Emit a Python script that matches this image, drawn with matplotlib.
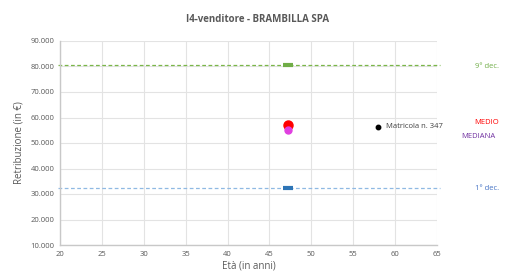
import matplotlib
matplotlib.use("Agg")
import matplotlib.pyplot as plt
from matplotlib.ticker import FuncFormatter

plt.rcParams['font.family'] = ['Open Sans', 'DejaVu Sans']

title = "I4-venditore - BRAMBILLA SPA"
xlabel = "Età (in anni)"
ylabel = "Retribuzione (in €)"

dec_line_x = [19.8, 65.4]
dec9_value = 80700
dec1_value = 32200
group_age = 47.2
medio_value = 57000
mediana_value = 55000
matricola_age = 58.0
matricola_value = 56400
matricola_label = "Matricola n. 347"

xticks = [20, 25, 30, 35, 40, 45, 50, 55, 60, 65]
yticks = [10000, 20000, 30000, 40000, 50000, 60000, 70000, 80000, 90000]

fig = plt.figure(figsize=(5.17, 2.75), dpi=100)
ax = fig.add_axes([60/517, 1-245/275, (437-60)/517, (245-41)/275])
ax.set_xlim(20, 65)
ax.set_ylim(10000, 90000)
ax.set_xticks(xticks)
ax.set_yticks(yticks)
ax.yaxis.set_major_formatter(FuncFormatter(lambda v, p: f"{int(v):,}".replace(",", ".")))
ax.grid(True, color="#e3e3e3", linewidth=0.8)
ax.set_axisbelow(True)
for s in ["top", "right"]:
    ax.spines[s].set_visible(False)
for s in ["left", "bottom"]:
    ax.spines[s].set_color("#c8c8c8")
    ax.spines[s].set_linewidth(1.0)
ax.tick_params(length=0, labelsize=5.5, colors="#595959", pad=4)

ax.plot(dec_line_x, [dec9_value]*2, color="#7ab648", linestyle=(0, (3, 2)), linewidth=0.9, clip_on=False)
ax.plot(dec_line_x, [dec1_value]*2, color="#8fb9e3", linestyle=(0, (3, 2)), linewidth=0.9, clip_on=False)
ax.plot([group_age], [dec9_value], marker="_", markersize=7.5, markeredgewidth=3, color="#70ad47")
ax.plot([group_age], [dec1_value], marker="_", markersize=7.5, markeredgewidth=3, color="#2e75b6")
ax.plot([group_age], [medio_value], marker="o", markersize=6.5, color="#ff0000", linestyle="none")
ax.plot([group_age], [mediana_value], marker="o", markersize=5, color="#e040e0", linestyle="none")
ax.plot([matricola_age], [matricola_value], marker="o", markersize=3.2, color="black", linestyle="none")
ax.text(matricola_age + 0.9, matricola_value, matricola_label, fontsize=5.5, color="#404040", va="center", ha="left")

fig.text(487/517, 1-66/275, "9° dec.", color="#70ad47", fontsize=5.5, ha="center", va="center")
fig.text(487/517, 1-123/275, "MEDIO", color="#ff0000", fontsize=5.5, ha="center", va="center")
fig.text(478/517, 1-136/275, "MEDIANA", color="#7030a0", fontsize=5.5, ha="center", va="center")
fig.text(487/517, 1-188/275, "1° dec.", color="#4472c4", fontsize=5.5, ha="center", va="center")

fig.text(258/517, 1-20/275, title, fontsize=7, fontweight="bold", color="#595959", ha="center", va="center")
ax.set_xlabel(xlabel, fontsize=7, color="#595959", labelpad=2)
ax.set_ylabel(ylabel, fontsize=7, color="#595959", labelpad=4)

fig.savefig("out.png", dpi=100)
